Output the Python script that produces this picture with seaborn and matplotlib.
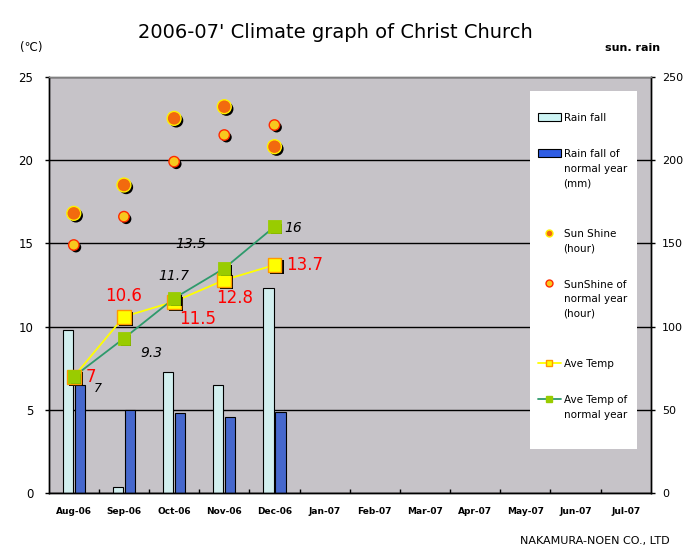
import numpy as np
import pandas as pd
import seaborn as sns
import matplotlib.pyplot as plt
import matplotlib.patheffects as pe
from matplotlib.lines import Line2D
from matplotlib.patches import Patch, Rectangle

months = ['Aug-06', 'Sep-06', 'Oct-06', 'Nov-06', 'Dec-06', 'Jan-07',
          'Feb-07', 'Mar-07', 'Apr-07', 'May-07', 'Jun-07', 'Jul-07']
rain = [98, 4, 73, 65, 123]
rain_normal = [65, 50, 48, 46, 49]
sun = [168, 185, 225, 232, 208]
sun_normal = [149, 166, 199, 215, 221]
temp = [7, 10.6, 11.5, 12.8, 13.7]
temp_normal = [7, 9.3, 11.7, 13.5, 16]

sns.set_style('white')
plt.rcParams['font.family'] = ['DejaVu Sans', 'Noto Sans CJK JP']
plt.rcParams['text.color'] = 'black'
plt.rcParams['xtick.color'] = 'black'
plt.rcParams['ytick.color'] = 'black'

fig = plt.figure(figsize=(6.97, 5.58), dpi=100)
W, H = 697, 558
ax = fig.add_axes([48.7 / W, 1 - 493.3 / H, (650.7 - 48.7) / W, (493.3 - 76.7) / H])
ax.set_facecolor('#C6C3C8')

n = len(rain)
shadow = [pe.SimplePatchShadow(offset=(1.6, -1.6), shadow_rgbFace='black', alpha=1), pe.Normal()]

# rainfall bars (right axis, mm)
bars = pd.DataFrame({
    'month': months[:n] * 2,
    'mm': rain + rain_normal,
    'kind': ['Rain fall'] * n + ['normal'] * n,
})
sns.barplot(data=bars, x='month', y='mm', hue='kind', order=months,
            palette=['#CDF4F4', '#2F5DE4'], width=0.48, gap=0.14,
            edgecolor='black', linewidth=0.8, legend=False, ax=ax)

# sunshine hours (right axis)
sns.pointplot(x=months[:n], y=sun, order=months, color='#F26A0E', markers='o',
              linestyles='none', markersize=10, markeredgecolor='#FFF200',
              markeredgewidth=1, errorbar=None, ax=ax)
ax.lines[-1].set_path_effects(shadow)
sns.pointplot(x=months[:n], y=sun_normal, order=months, color='#F7C81E', markers='o',
              linestyles='none', markersize=7.5, markeredgecolor='#FF2A00',
              markeredgewidth=1, errorbar=None, ax=ax)
ax.lines[-1].set_path_effects(shadow)

ax.set_ylim(0, 250)
ax.set_xlim(-0.5, 11.5)
ax.set_yticks(range(0, 251, 50))
ax.set_axisbelow(True)
ax.yaxis.grid(True, color='black', linewidth=1)
ax.xaxis.grid(False)
ax.set_xlabel('')
ax.set_ylabel('')

# temperature (left axis)
ax2 = ax.twinx()
sns.pointplot(x=months[:n], y=temp, order=months, color='#FFFF00', markers='',
              linewidth=1.3, errorbar=None, ax=ax2)
sns.pointplot(x=months[:n], y=temp_normal, order=months, color='#2E9A6C', markers='',
              linewidth=1.3, errorbar=None, ax=ax2)
sns.pointplot(x=months[:n], y=temp, order=months, color='#FFFF00', markers='s',
              linestyles='none', markersize=10, markeredgecolor='#FF9900',
              markeredgewidth=1, errorbar=None, ax=ax2)
ax2.lines[-1].set_path_effects(shadow)
sns.pointplot(x=months[:n], y=temp_normal, order=months, color='#99CC00', markers='s',
              linestyles='none', markersize=7.5, markeredgecolor='#99CC00',
              errorbar=None, ax=ax2)
ax2.lines[-1].set_path_effects(shadow)

ax2.set_ylim(0, 25)
ax2.set_xlim(-0.5, 11.5)
ax2.set_yticks(range(0, 26, 5))
ax2.yaxis.tick_left()
ax.yaxis.tick_right()
ax2.set_xlabel('')
ax2.set_ylabel('')

# data labels
temp_off = [(12, 0, 'left'), (0, 21, 'center'), (24, -17, 'center'), (10, -18, 'center'), (12, 0, 'left')]
norm_off = [(20, -12, 'left'), (16, -15, 'left'), (0, 22, 'center'), (-33, 24, 'center'), (10, -1, 'left')]
for i in range(n):
    dx, dy, ha = temp_off[i]
    ax2.annotate(f'{temp[i]:g}', (i, temp[i]), xytext=(dx, dy), textcoords='offset pixels',
                 ha=ha, va='center', color='red', fontsize=12)
    dx, dy, ha = norm_off[i]
    ax2.annotate(f'{temp_normal[i]:g}', (i, temp_normal[i]), xytext=(dx, dy), textcoords='offset pixels',
                 ha=ha, va='center', color='black', fontsize=10 if i else 9, style='italic')

# axes styling
for a in (ax, ax2):
    a.spines['top'].set_color('#808080')
    for s in ('left', 'right', 'bottom'):
        a.spines[s].set_color('black')
    for s in a.spines.values():
        s.set_linewidth(1)
ax.tick_params(axis='y', which='major', right=True, left=False, labelright=True, labelleft=False,
               length=3, width=1, color='black', labelsize=8, pad=5)
ax2.tick_params(axis='y', which='major', left=True, right=False, labelleft=True, labelright=False,
                length=3, width=1, color='black', labelsize=8.5, pad=8)
ax.set_xticks(range(len(months)))
ax.set_xticklabels(months, fontsize=6.5, fontweight='bold')
ax.set_xticks(np.arange(0.5, len(months) - 1, 1), minor=True)
ax.tick_params(axis='x', which='major', length=0, pad=10)
ax.tick_params(axis='x', which='minor', bottom=True, direction='in', length=3, width=1, color='black')
ax2.tick_params(axis='x', which='both', bottom=False, top=False, labelbottom=False)

# legend: white panel + frameless legend on top
ax2.add_patch(Rectangle((0.7995, 0.1063), 0.177, 0.8594, transform=ax2.transAxes,
                        facecolor='white', edgecolor='none', zorder=4.5))
handles = [
    Patch(facecolor='#CDF4F4', edgecolor='black', linewidth=0.8),
    Patch(facecolor='#2F5DE4', edgecolor='black', linewidth=0.8),
    Line2D([], [], linestyle='none', marker='o', markersize=5, markerfacecolor='#F26A0E', markeredgecolor='#FFF200'),
    Line2D([], [], linestyle='none', marker='o', markersize=5, markerfacecolor='#F7C81E', markeredgecolor='#FF2A00'),
    Line2D([], [], color='#FFFF00', linewidth=1.3, marker='s', markersize=5, markerfacecolor='#FFFF00', markeredgecolor='#FF9900'),
    Line2D([], [], color='#2E9A6C', linewidth=1.3, marker='s', markersize=5, markerfacecolor='#99CC00', markeredgecolor='#99CC00'),
]
labels = ['Rain fall', 'Rain fall of\nnormal year\n(mm)\n', 'Sun Shine\n(hour)',
          'SunShine of\nnormal year\n(hour)\n', 'Ave Temp', 'Ave Temp of\nnormal year']
leg = ax2.legend(handles, labels, loc='upper left', bbox_to_anchor=(0.8128, 0.9123),
                 borderaxespad=0, borderpad=0, fontsize=7.5, labelspacing=2.52,
                 handlelength=2.2, handletextpad=0.25, frameon=False)
leg.set_zorder(6)
for t in leg.get_texts():
    t.set_linespacing(1.55)
for col in leg._legend_handle_box.get_children():
    for item in col.get_children():
        item.align = 'top'

# texts
fig.text(335 / W, 1 - 32 / H, "2006-07' Climate graph of Christ Church", ha='center', va='center', fontsize=14)
fig.text(20 / W, 1 - 47 / H, '(℃)', ha='left', va='center', fontsize=8.5)
fig.text(660 / W, 1 - 48 / H, 'sun. rain', ha='right', va='center', fontsize=8, fontweight='bold')
fig.text(670 / W, 1 - 541 / H, 'NAKAMURA-NOEN CO., LTD', ha='right', va='center', fontsize=8)

fig.savefig('out.png', dpi=100)
